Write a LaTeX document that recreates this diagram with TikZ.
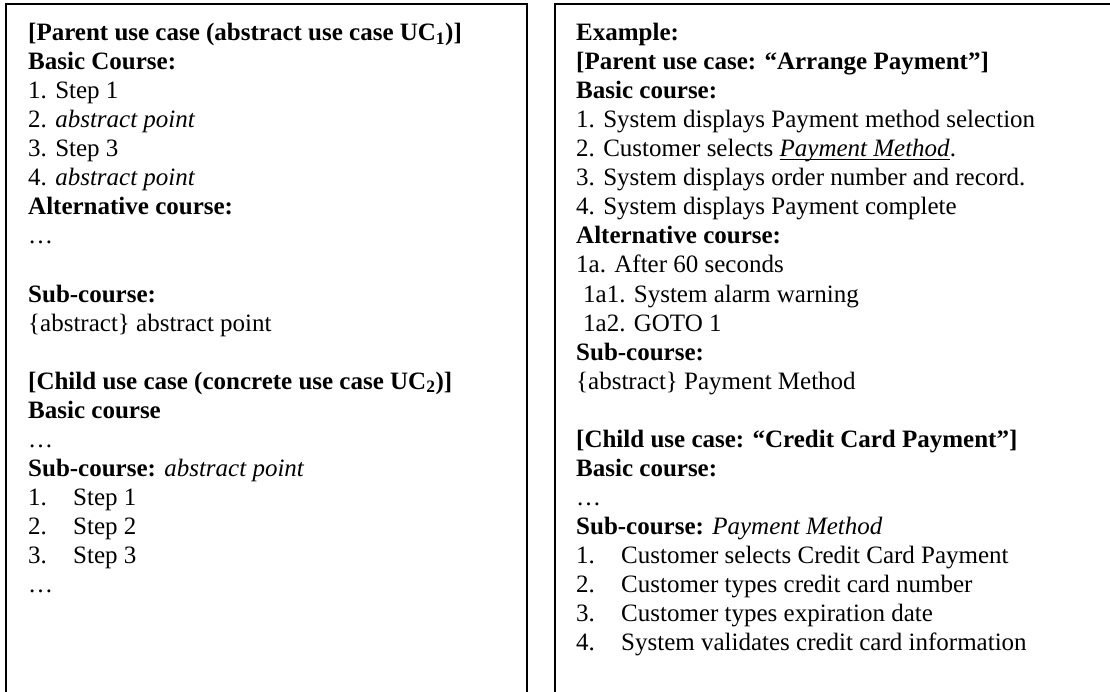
\documentclass[tikz,border=0pt]{standalone}
\usepackage{fontspec}
\setmainfont{Liberation Serif}
% underline drawn as a rule just below the baseline
\newcommand\myul[1]{\setbox0\hbox{#1}\rlap{\rule[-3.5pt]{\wd0}{1.1pt}}\box0}
\begin{document}
\begin{tikzpicture}[x=1pt,y=-1pt,
  frame/.style={line width=1.8pt, line cap=rect},
  txt/.style={anchor=base west, inner sep=0pt, font=\fontsize{25}{29}\selectfont},
  hd/.style={txt, font=\fontsize{25}{29}\selectfont\bfseries}]
\useasboundingbox (0,0) rectangle (1110,692);

% two open frames, running off the right and bottom edges
\draw[frame] (6,692) -- (6,4) -- (527,4) -- (527,692);
\draw[frame] (555,692) -- (555,4) -- (1110,4);

% ---- left column: generic pattern ----
\node[hd]  (l0)  at (28,41)  {[Parent use case (abstract use case UC\textsubscript{1})]};
\node[hd]  (l1)  at (28,70)  {Basic Course:};
\node[txt] (l2)  at (28,99)  {1. Step 1};
\node[txt] (l3)  at (28,128) {2. \textit{abstract point}};
\node[txt] (l4)  at (28,157) {3. Step 3};
\node[txt] (l5)  at (28,186) {4. \textit{abstract point}};
\node[hd]  (l6)  at (28,215) {Alternative course:};
\node[txt] (l7)  at (28,244) {\ldots};
\node[hd]  (l9)  at (28,302) {Sub-course:};
\node[txt] (l10) at (28,331) {\{abstract\} abstract point};
\node[hd]  (l12) at (28,389) {[Child use case (concrete use case UC\textsubscript{2})]};
\node[hd]  (l13) at (28,418) {Basic course};
\node[txt] (l14) at (28,447) {\ldots};
\node[txt] (l15) at (28,476) {\textbf{Sub-course:} \textit{abstract point}};
\node[txt] (l16) at (28,505) {\makebox[45pt][l]{1.}Step 1};
\node[txt] (l17) at (28,534) {\makebox[45pt][l]{2.}Step 2};
\node[txt] (l18) at (28,563) {\makebox[45pt][l]{3.}Step 3};
\node[txt] (l19) at (28,592) {\ldots};

% ---- right column: worked example ----
\node[hd]  (r0)  at (576,41)  {Example:};
\node[hd]  (r1)  at (576,70)  {[Parent use case: “Arrange Payment”]};
\node[hd]  (r2)  at (576,99)  {Basic course:};
\node[txt] (r3)  at (576,128) {1. System displays Payment method selection};
\node[txt] (r4)  at (576,157) {2. Customer selects \myul{\textit{Payment Method}}.};
\node[txt] (r5)  at (576,186) {3. System displays order number and record.};
\node[txt] (r6)  at (576,215) {4. System displays Payment complete};
\node[hd]  (r7)  at (576,244) {Alternative course:};
\node[txt] (r8)  at (576,273) {1a. After 60 seconds};
\node[txt] (r9)  at (583,302) {1a1. System alarm warning};
\node[txt] (r10) at (583,331) {1a2. GOTO 1};
\node[hd]  (r11) at (576,360) {Sub-course:};
\node[txt] (r12) at (576,389) {\{abstract\} Payment Method};
\node[hd]  (r14) at (576,447) {[Child use case: “Credit Card Payment”]};
\node[hd]  (r15) at (576,476) {Basic course:};
\node[txt] (r16) at (576,505) {\ldots};
\node[txt] (r17) at (576,534) {\textbf{Sub-course:} \textit{Payment Method}};
\node[txt] (r18) at (576,563) {\makebox[45pt][l]{1.}Customer selects Credit Card Payment};
\node[txt] (r19) at (576,592) {\makebox[45pt][l]{2.}Customer types credit card number};
\node[txt] (r20) at (576,621) {\makebox[45pt][l]{3.}Customer types expiration date};
\node[txt] (r21) at (576,650) {\makebox[45pt][l]{4.}System validates credit card information};
\end{tikzpicture}
\end{document}
